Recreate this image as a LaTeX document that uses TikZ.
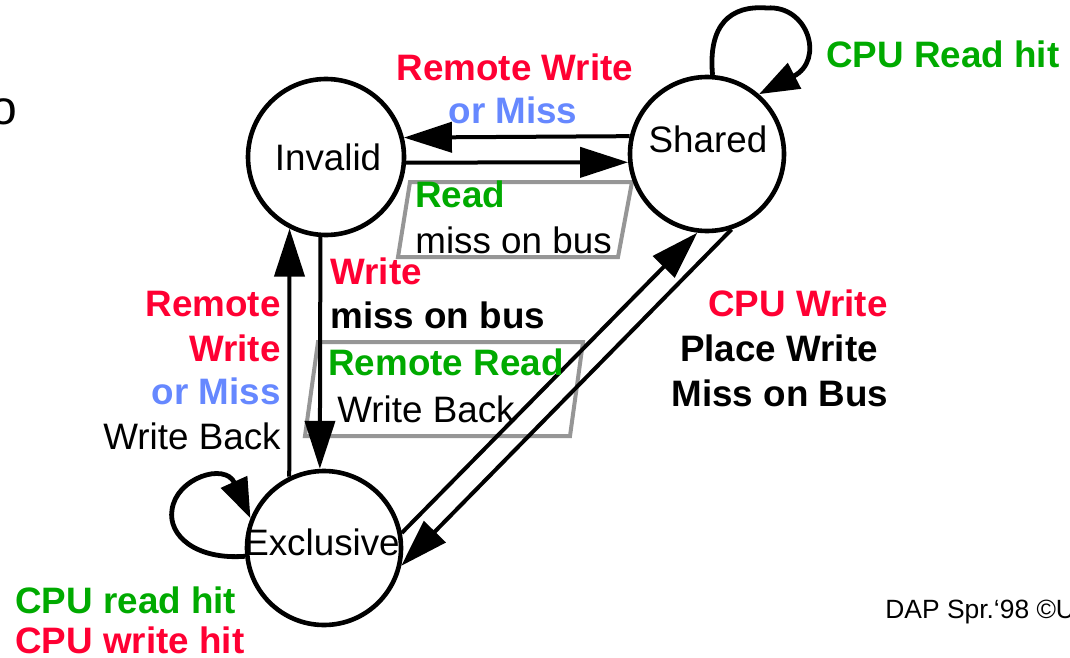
\documentclass[tikz,border=0pt]{standalone}
\usepackage{fontspec}
\setmainfont{Liberation Sans}
\usetikzlibrary{arrows.meta}
\definecolor{hotred}{RGB}{255,0,51}
\definecolor{leafgreen}{RGB}{0,170,0}
\definecolor{skyblue}{RGB}{102,136,255}
\definecolor{framegray}{RGB}{150,150,150}

\begin{document}
\begin{tikzpicture}[x=0.5pt,y=-0.5pt,
  state/.style={circle,draw,line width=2.3pt,minimum size=77pt,inner sep=0pt},
  edge/.style={line width=2pt,-{Triangle[length=24pt,width=15pt]}},
  selfloop/.style={line width=2.4pt,-{Triangle[length=20pt,width=14pt]}},
  lbl/.style={inner sep=0pt,anchor=base west,font=\fontsize{18.4}{22}\selectfont},
  lblr/.style={lbl,anchor=base east},
  lblc/.style={lbl,anchor=base},
  bold/.style={font=\fontsize{18.4}{22}\selectfont\bfseries},
  frame/.style={draw=framegray,line width=2pt}]

\fill[white] (0,0) rectangle (1070,658);
\useasboundingbox (0,0) rectangle (1070,658);

% transaction frames
\draw[frame] (410,182) -- (632,182) -- (618,257) -- (398,257) -- cycle;
\draw[frame] (318,342) -- (583,342) -- (570,436) -- (305,436) -- cycle;

% states
\node[state,minimum size=78pt] (I) at (326,157) {};
\node[state] (S) at (707,154) {};
\node[state] (E) at (324,548) {};
\node[lblc] (Itxt) at (328,170) {Invalid};
\node[lblc] (Stxt) at (708,153) {Shared};
\node[lblc] (Etxt) at (322,555) {Exclusive};

% transitions
\draw[edge] (S.167) -- (I.14);
\draw[edge] (I.356) -- (S.186);
\draw[edge] (I.266) -- (E.93);
\draw[edge] (E.116) -- (I.243);
\draw[edge] (E.11) -- (S.263);
\draw[edge] (S.288) -- (E.347);

% self loops
\draw[selfloop] (S.86) .. controls (708,25) and (730,5) .. (767,8)
  .. controls (808,5) and (825,60) .. (S.49);
\draw[selfloop] (E.186) .. controls (195,560) and (168,535) .. (172,510)
  .. controls (176,478) and (225,462) .. (E.158);

% labels
\node[lblc,bold,text=hotred] (l1) at (515,81) {Remote Write};
\node[lblc,bold,text=skyblue] (l2) at (513,124) {or Miss};
\node[lbl,bold,text=leafgreen] (l3) at (826,68) {CPU Read hit};
\node[lbl,bold,text=leafgreen] (l4) at (415,207) {Read};
\node[lbl] (l5) at (415,253) {miss on bus};
\node[lbl,bold,text=hotred] (l6) at (330,284) {Write};
\node[lbl,bold] (l7) at (330,328) {miss on bus};
\node[lbl,bold,text=leafgreen] (l8) at (328,375) {Remote Read};
\node[lbl] (l9) at (337,422) {Write Back};
\node[lblr,bold,text=hotred] (l10) at (281,316) {Remote};
\node[lblr,bold,text=hotred] (l11) at (281,361) {Write};
\node[lblr,bold,text=skyblue] (l12) at (281,404) {or Miss};
\node[lblr] (l13) at (281,449) {Write Back};
\node[lblc,bold,text=hotred] (l14) at (798,316) {CPU Write};
\node[lblc,bold] (l15) at (779,361) {Place Write};
\node[lblc,bold] (l16) at (780,406) {Miss on Bus};
\node[lbl,bold,text=leafgreen] (l17) at (15,613) {CPU read hit};
\node[lbl,bold,text=hotred] (l18) at (15,653) {CPU write hit};
\node[lbl,font=\fontsize{13.2}{15}\selectfont] (foot) at (885,618) {DAP Spr.‘98 ©U};
\node[lblr,font=\fontsize{24}{28}\selectfont] (cut) at (18,125) {o};
\end{tikzpicture}
\end{document}
